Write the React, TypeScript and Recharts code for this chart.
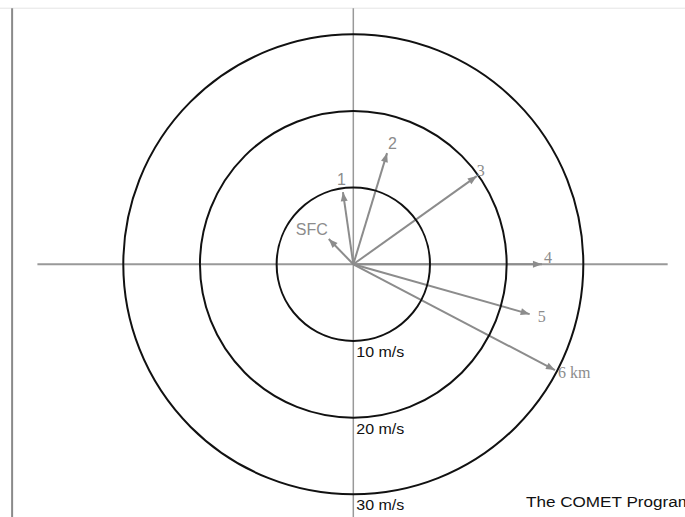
import {
  ScatterChart,
  Scatter,
  XAxis,
  YAxis,
  ReferenceLine,
  ReferenceDot,
} from "recharts";

// hodograph: wind vectors (u east, v north) in m/s
const levels = ["SFC", "1", "2", "3", "4", "5", "6 km"];
const uWind = [-3.2, -1.35, 4.4, 16.1, 24.6, 23.0, 26.3];
const vWind = [3.3, 9.4, 14.5, 11.5, 0, -6.5, -13.8];

const rings = [10, 20, 30];
const ringLabels = ["10 m/s", "20 m/s", "30 m/s"];

const W = 685;
const H = 517;
const X_MIN = -46.08;
const X_MAX = 43.26;
const Y_MIN = -32.96;
const Y_MAX = 34.47;
const PX = W / (X_MAX - X_MIN); // pixels per m/s, same on both axes

const vectors = levels.map((name, i) => ({ name, u: uWind[i], v: vWind[i] }));
const ringLabelData = rings.map((r, i) => ({ u: 0, v: -r, text: ringLabels[i] }));

/* label placement next to each arrow tip */
const labelStyle: Record<string, { dx: number; dy: number; serif: boolean }> = {
  SFC: { dx: -33, dy: -4, serif: false },
  "1": { dx: -6, dy: -7, serif: false },
  "2": { dx: 1, dy: -4, serif: false },
  "3": { dx: 0, dy: 0, serif: true },
  "4": { dx: 2, dy: -1, serif: true },
  "5": { dx: 8, dy: 8, serif: true },
  "6 km": { dx: 3, dy: 8, serif: true },
};

const GRAY = "#8c8c8c";

function ArrowHead(props: any) {
  const { cx, cy, payload } = props;
  const ang = Math.atan2(-payload.v, payload.u);
  const len = 9;
  const half = 3.5;
  const bx = cx - len * Math.cos(ang);
  const by = cy - len * Math.sin(ang);
  const px = -Math.sin(ang) * half;
  const py = Math.cos(ang) * half;
  const st = labelStyle[payload.name];
  return (
    <g>
      <polygon
        points={`${cx},${cy} ${bx + px},${by + py} ${bx - px},${by - py}`}
        fill={GRAY}
      />
      <text
        x={cx + st.dx}
        y={cy + st.dy}
        fill={GRAY}
        style={{
          fontSize: 16,
          fontFamily: st.serif ? "'Liberation Serif', serif" : "'Liberation Sans', Arial, sans-serif",
        }}
      >
        {payload.name}
      </text>
    </g>
  );
}

function RingLabel(props: any) {
  const { cx, cy, payload } = props;
  return (
    <text
      x={cx + 3}
      y={cy + 16}
      fill="#111"
      textLength={48}
      lengthAdjust="spacingAndGlyphs"
      style={{ fontSize: 14, fontFamily: "'Liberation Sans', Arial, sans-serif" }}
    >
      {payload.text}
    </text>
  );
}

export default function App() {
  return (
    <div style={{ position: "absolute", left: 0, top: 0, width: W, height: H, background: "#fff" }}>
      <ScatterChart width={W} height={H} margin={{ top: 0, right: 0, bottom: 0, left: 0 }}>
        <XAxis type="number" dataKey="u" domain={[X_MIN, X_MAX]} allowDataOverflow hide />
        <YAxis type="number" dataKey="v" domain={[Y_MIN, Y_MAX]} allowDataOverflow hide />

        {/* frame */}
        <ReferenceLine
          segment={[{ x: X_MIN, y: 33.4 }, { x: X_MAX, y: 33.4 }]}
          stroke="#e4e4e4"
          strokeWidth={1}
          ifOverflow="visible"
        />
        <ReferenceLine
          segment={[{ x: -44.5, y: 33.4 }, { x: -44.5, y: Y_MIN }]}
          stroke="#8a8a8a"
          strokeWidth={2}
          ifOverflow="visible"
        />

        {/* axes */}
        <ReferenceLine
          segment={[{ x: -41.2, y: 0 }, { x: 41.0, y: 0 }]}
          stroke="#999"
          strokeWidth={2}
          ifOverflow="visible"
        />

        {rings.map((r) => (
          <ReferenceDot
            key={r}
            x={0}
            y={0}
            r={r * PX}
            fill="none"
            stroke="#111"
            strokeWidth={2}
          />
        ))}

        <ReferenceLine
          segment={[{ x: 0, y: 33.4 }, { x: 0, y: Y_MIN }]}
          stroke="#999"
          strokeWidth={1.5}
          ifOverflow="visible"
        />

        {vectors.map((d) => (
          <ReferenceLine
            key={d.name}
            segment={[{ x: 0, y: 0 }, { x: d.u, y: d.v }]}
            stroke={GRAY}
            strokeWidth={2}
            ifOverflow="visible"
          />
        ))}

        <Scatter data={vectors} shape={ArrowHead} isAnimationActive={false} />
        <Scatter data={ringLabelData} shape={RingLabel} isAnimationActive={false} />
      </ScatterChart>

      <svg
        width={W}
        height={H}
        style={{ position: "absolute", left: 0, top: 0, pointerEvents: "none" }}
      >
        <text
          x={526}
          y={507}
          fill="#111"
          textLength={166}
          lengthAdjust="spacingAndGlyphs"
          style={{ fontSize: 14, fontFamily: "'Liberation Sans', Arial, sans-serif" }}
        >
          The COMET Program
        </text>
      </svg>
    </div>
  );
}
